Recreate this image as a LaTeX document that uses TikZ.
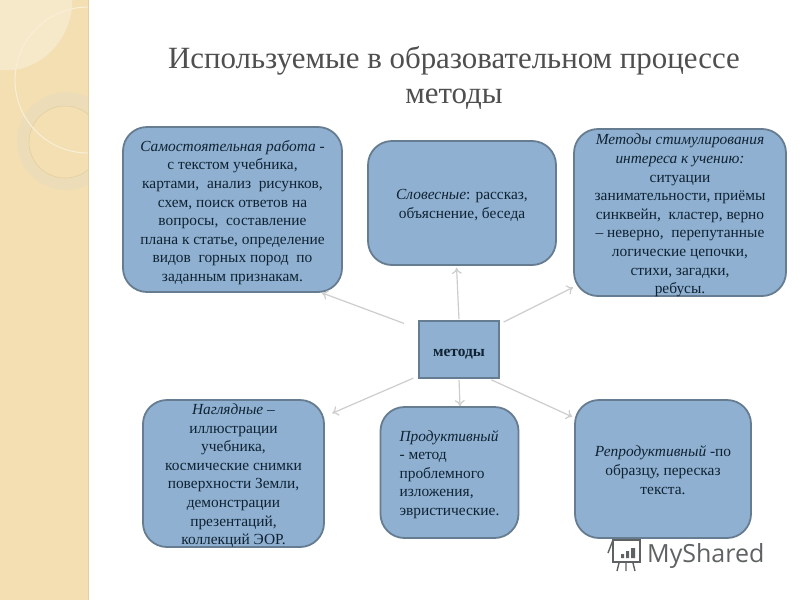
\documentclass[tikz,border=0pt]{standalone}
\usepackage{fontspec}
\usetikzlibrary{arrows.meta}
\setmainfont{Liberation Serif}
\newfontfamily\logofont{Open Sans}

\definecolor{stripfill}{HTML}{F4DFB2}
\definecolor{stripedge}{HTML}{E3CFA4}
\definecolor{stripup}{HTML}{F6E9CA}
\definecolor{ringfill}{HTML}{ECDDB8}
\definecolor{ringline}{HTML}{F8EFD6}
\definecolor{boxfill}{HTML}{8FB0D0}
\definecolor{boxline}{HTML}{667C90}
\definecolor{boxtext}{HTML}{0F2233}
\definecolor{titlegray}{HTML}{4F4F4F}
\definecolor{arrowgray}{HTML}{CDCDCD}
\definecolor{logogray}{HTML}{5F6263}
\newcommand{\topgap}[1]{\rule{0pt}{#1}}

\begin{document}
\begin{tikzpicture}[x=1pt,y=-1pt,every node/.style={inner sep=0pt,align=center},
metodbox/.style={draw=boxline,fill=boxfill,line width=1.8pt,rounded corners=24pt,inner ysep=-5pt,text=boxtext,font=\fontsize{15.4}{18.6}\selectfont},
arrowline/.style={-{To[length=6pt,width=10pt]},draw=arrowgray,line width=1.2pt}]
\useasboundingbox (0,0) rectangle (800,600);
\fill[white] (0,0) rectangle (800,600);
\begin{scope}
\clip (0,0) rectangle (88,600);
\fill[stripfill] (0,0) rectangle (88,600);
\fill[stripup] (0,0) -- (72,0) -- (72,8) .. controls (68,40) and (45,65) .. (15,70) -- (0,70) -- cycle;
\fill[ringfill,even odd rule] (66,141) circle[radius=49pt] (65,142) circle[radius=36pt];
\draw[stripedge,line width=0.6pt] (65,142) circle[radius=36pt];
\draw[ringline,line width=1pt] (88,80) circle[radius=73pt];
\end{scope}
\draw[stripedge,line width=1pt] (88,0) -- (88,600);
\node[text=titlegray,font=\fontsize{30.9}{35}\selectfont] (title) at (454,78) {Используемые в образовательном процессе\\методы};
\node[metodbox,minimum width=219pt,minimum height=165pt] (samost) at (232.5,209.5) {\topgap{17pt}\textit{Самостоятельная работа -}\\с текстом учебника,\\картами,\ \ анализ\ \ рисунков,\\схем, поиск ответов на\\вопросы,\ \ составление\\плана к статье, определение\\видов\ \ горных пород\ \ по\\заданным признакам.};
\node[metodbox,minimum width=188pt,minimum height=124pt] (slova) at (462,203) {\topgap{15pt}\textit{Словесные}: рассказ,\\объяснение, беседа};
\node[metodbox,minimum width=212pt,minimum height=167pt] (stimul) at (680,212.5) {\topgap{17pt}\textit{Методы стимулирования}\\\textit{интереса к учению:}\\ситуации\\занимательности, приёмы\\синквейн,\ \ кластер, верно\\-- неверно,\ \ перепутанные\\логические цепочки,\\стихи, загадки,\\ребусы.};
\node[metodbox,rounded corners=0pt,line width=2pt,minimum width=80pt,minimum height=57pt] (root) at (459,349.5) {\topgap{16pt}\textbf{методы}};
\node[metodbox,minimum width=181pt,minimum height=147pt] (nagl) at (233.5,473.5) {\topgap{15pt}\textit{Наглядные} --\\иллюстрации\\учебника,\\космические снимки\\поверхности Земли,\\демонстрации\\презентаций,\\коллекций ЭОР.};
\node[metodbox,align=left,minimum width=138pt,minimum height=131pt] (prod) at (449.5,472.5) {\topgap{15pt}\textit{Продуктивный}\\- метод\\проблемного\\изложения,\\эвристические.};
\node[metodbox,minimum width=176pt,minimum height=138pt] (repr) at (663,469) {\topgap{13pt}\textit{Репродуктивный} -по\\образцу, пересказ\\текста.};
\draw[arrowline,shorten <=15pt] (root.153) -- (samost.-43);
\draw[arrowline,shorten <=1pt,shorten >=2pt] (root.north) -- (slova.-95);
\draw[arrowline,shorten <=4pt] (root.32) -- (stimul.215);
\draw[arrowline,shorten <=5pt,shorten >=8pt] (root.213) -- (nagl.32);
\draw[arrowline,shorten <=1pt] (root.south) -- (prod.81);
\draw[arrowline,shorten <=2pt,shorten >=2pt] (root.-44) -- (repr.150);
\begin{scope}[draw=logogray,line width=1.4pt]
\draw (613,540) -- (640,540) -- (640,562) -- (613,562) -- cycle;
\draw (608,553) -- (613,540);
\draw (619,563) -- (617,571) (626,563) -- (626,571) (633,563) -- (635,571);
\fill[logogray] (621,554) rectangle (624,558) (626,551) rectangle (629,558) (631,548) rectangle (635,558);
\end{scope}
\node[text=logogray,font=\logofont\fontsize{25}{28}\selectfont,anchor=west] (logo) at (647,556) {MyShared};
\end{tikzpicture}
\end{document}
